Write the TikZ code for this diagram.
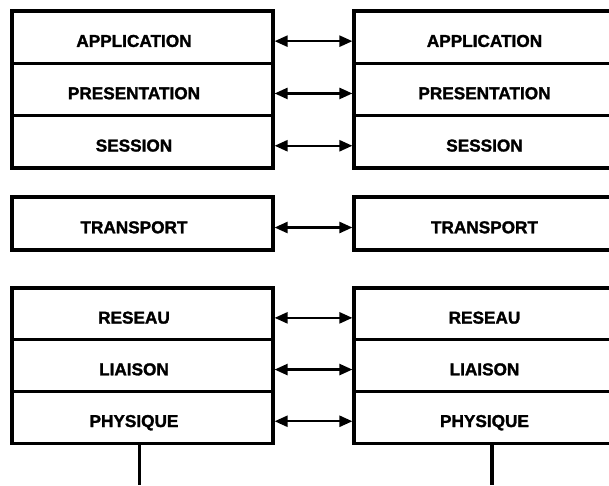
\documentclass[tikz,border=0pt]{standalone}
\usepackage{fontspec}
\setmainfont{Liberation Sans}
\newfontfamily\heavyfont[FakeBold=1.6]{Liberation Sans Bold}
\usetikzlibrary{arrows.meta}
\begin{document}
\begin{tikzpicture}[x=1pt,y=-1pt,
  layer/.style={draw=black, line width=3.2pt, minimum width=261pt, inner sep=0pt,
    text height=19.5pt, text depth=0pt, font=\heavyfont\fontsize{17.2pt}{20pt}\selectfont},
  upperrow/.style={layer, minimum height=52.3pt},
  transrow/.style={layer, minimum height=53pt},
  lowerrow/.style={layer, minimum height=51.7pt},
  leftside/.style={execute at end node={\hspace{17pt}}},
  biarrow/.style={line width=2.4pt, {Triangle[length=13pt,width=11pt]}-{Triangle[length=13pt,width=11pt]}},
  wire/.style={line width=3.2pt}]
\clip (0,0) rectangle (609,485);
\fill[white] (0,0) rectangle (609,485);
% left stack
\node[upperrow, leftside] (lapp) at (142.5,37.15) {APPLICATION};
\node[upperrow, leftside] (lpre) at (142.5,89.45) {PRESENTATION};
\node[upperrow, leftside] (lses) at (142.5,141.75) {SESSION};
\node[transrow, leftside] (ltra) at (142.5,223.5) {TRANSPORT};
\node[lowerrow, leftside] (lres) at (142.5,313.85) {RESEAU};
\node[lowerrow, leftside] (llia) at (142.5,365.55) {LIAISON};
\node[lowerrow, leftside] (lphy) at (142.5,417.25) {PHYSIQUE};
% right stack
\node[upperrow] (rapp) at (484.5,37.15) {APPLICATION};
\node[upperrow] (rpre) at (484.5,89.45) {PRESENTATION};
\node[upperrow] (rses) at (484.5,141.75) {SESSION};
\node[transrow] (rtra) at (484.5,223.5) {TRANSPORT};
\node[lowerrow] (rres) at (484.5,313.85) {RESEAU};
\node[lowerrow] (rlia) at (484.5,365.55) {LIAISON};
\node[lowerrow] (rphy) at (484.5,417.25) {PHYSIQUE};
% peer arrows
\foreach \a/\b in {lapp/rapp, lpre/rpre, lses/rses, ltra/rtra, lres/rres, llia/rlia, lphy/rphy}
  \draw[biarrow] ([yshift=-4pt]\a.east) -- ([yshift=-4pt]\b.west);
% physical medium wires
\coordinate (lend) at (139.5,485);
\coordinate (rend) at (492,485);
\draw[wire] (lend |- lphy.south) -- (lend);
\draw[wire] (rend |- rphy.south) -- (rend);
\end{tikzpicture}
\end{document}
